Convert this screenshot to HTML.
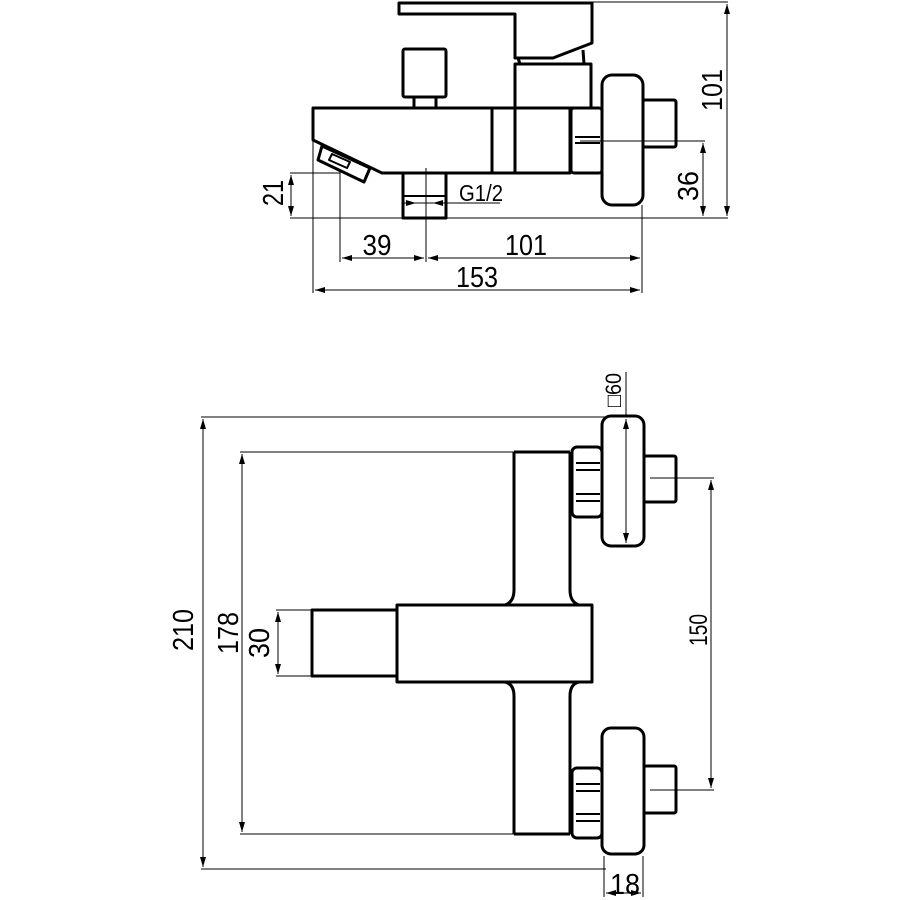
<!DOCTYPE html>
<html><head><meta charset="utf-8"><style>html,body{margin:0;padding:0;background:#fff}svg{display:block}</style></head>
<body>
<svg width="900" height="900" viewBox="0 0 900 900" xmlns="http://www.w3.org/2000/svg">
<defs>
<marker id="a" viewBox="0 0 10 6" refX="10" refY="3" markerWidth="10" markerHeight="6" orient="auto-start-reverse" markerUnits="userSpaceOnUse"><path d="M0,0 L10,3 L0,6 Z" fill="#000"/></marker>
</defs>
<g fill="none" stroke="#000" stroke-width="3" stroke-linejoin="round">
<path d="M399,3 H592 V43 L553,58 H515 V14 H399 Z"/>
<path d="M518,58 L520,64 H584 L583,50"/>
<rect x="515" y="64" width="76" height="44"/>
<rect x="403" y="49" width="43" height="48" rx="2"/>
<path d="M414,97 V108 M436,97 V108"/>
<path d="M313,108 H570 V173 H382 L313,140 Z"/>
<path d="M492,108 V173 M515,108 V173"/>
<path d="M322,146 L370,168 L364,182 L318,160 Z"/>
<path d="M332,154 L350,162 L347,168 L329,160 Z" stroke-width="2"/>
<path d="M403,173 V218 H446 V173"/>
<path d="M403,196 H446" stroke-width="2"/>
<rect x="571" y="108" width="31" height="65" rx="3"/>
<path d="M575,137 H600 M575,143 H600" stroke-width="2"/>
<rect x="602" y="75" width="41" height="130" rx="10"/>
<rect x="643" y="100" width="33" height="47" rx="2"/>
<path d="M514,452 V590 Q514,602 505,605 M570,452 V590 Q570,602 579,605"/>
<path d="M514,834 V696 Q514,684 505,682 M570,834 V696 Q570,684 579,682"/>
<path d="M514,452 H570 M514,834 H570"/>
<rect x="397" y="605" width="195" height="77"/>
<rect x="312" y="610" width="85" height="66"/>
<rect x="572" y="447" width="30" height="70" rx="5"/>
<path d="M576,463 H600 M576,470 H600 M576,494 H600 M576,501 H600" stroke-width="2"/>
<rect x="602" y="416" width="42" height="130" rx="9"/>
<rect x="644" y="456" width="32" height="46" rx="2"/>
<rect x="572" y="768" width="30" height="70" rx="5"/>
<path d="M576,784 H600 M576,791 H600 M576,814 H600 M576,821 H600" stroke-width="2"/>
<rect x="602" y="728" width="42" height="126" rx="9"/>
<rect x="644" y="766" width="32" height="47" rx="2"/>
</g>
<g fill="none" stroke="#000" stroke-width="1">
<path d="M290,218 H728"/>
<path d="M592,2 H728"/>
<path d="M727,4 V216" marker-start="url(#a)" marker-end="url(#a)"/>
<path d="M580,141 H705"/>
<path d="M703,143 V216" marker-start="url(#a)" marker-end="url(#a)"/>
<path d="M290,173 H340"/>
<path d="M291,175 V216" marker-start="url(#a)" marker-end="url(#a)"/>
<path d="M340,170 V262 M426,168 V262 M642,205 V293 M313,140 V293"/>
<path d="M342,258 H424" marker-start="url(#a)" marker-end="url(#a)"/>
<path d="M428,258 H640" marker-start="url(#a)" marker-end="url(#a)"/>
<path d="M315,290 H640" marker-start="url(#a)" marker-end="url(#a)"/>
<path d="M403,203 H500"/>
<path d="M406,203 H416" marker-end="url(#a)"/>
<path d="M443,203 H433" marker-end="url(#a)"/>
<path d="M201,417 H622 M201,869 H606"/>
<path d="M203,419 V867" marker-start="url(#a)" marker-end="url(#a)"/>
<path d="M240,452 H514 M240,834 H514"/>
<path d="M242,454 V832" marker-start="url(#a)" marker-end="url(#a)"/>
<path d="M276,610 H312 M276,676 H312"/>
<path d="M278,612 V674" marker-start="url(#a)" marker-end="url(#a)"/>
<path d="M626,372 V416"/>
<path d="M626,419 V543" marker-start="url(#a)" marker-end="url(#a)"/>
<path d="M650,478 H714 M650,790 H714"/>
<path d="M711,480 V788" marker-start="url(#a)" marker-end="url(#a)"/>
<path d="M604,856 V897 M643,856 V897"/>
<path d="M606,893 H641" marker-start="url(#a)" marker-end="url(#a)"/>
</g>
<g font-family="'Liberation Sans', sans-serif" font-size="29" fill="#000">
<text transform="translate(722,90) rotate(-90)" text-anchor="middle" textLength="42" lengthAdjust="spacingAndGlyphs">101</text>
<text transform="translate(698,186) rotate(-90)" text-anchor="middle" textLength="30" lengthAdjust="spacingAndGlyphs">36</text>
<text transform="translate(283,193) rotate(-90)" text-anchor="middle" textLength="26" lengthAdjust="spacingAndGlyphs">21</text>
<text x="377" y="255" text-anchor="middle" textLength="29" lengthAdjust="spacingAndGlyphs">39</text>
<text x="526" y="255" text-anchor="middle" textLength="42" lengthAdjust="spacingAndGlyphs">101</text>
<text x="477" y="287" text-anchor="middle" textLength="42" lengthAdjust="spacingAndGlyphs">153</text>
<text x="459" y="201" font-size="23" textLength="44" lengthAdjust="spacingAndGlyphs">G1/2</text>
<text transform="translate(193,630) rotate(-90)" text-anchor="middle" textLength="42" lengthAdjust="spacingAndGlyphs">210</text>
<text transform="translate(238,633) rotate(-90)" text-anchor="middle" textLength="42" lengthAdjust="spacingAndGlyphs">178</text>
<text transform="translate(269,643) rotate(-90)" text-anchor="middle" textLength="30" lengthAdjust="spacingAndGlyphs">30</text>
<text transform="translate(707,630) rotate(-90)" text-anchor="middle" textLength="32" lengthAdjust="spacingAndGlyphs" font-size="25">150</text>
<text transform="translate(621,390) rotate(-90)" text-anchor="middle" textLength="34" lengthAdjust="spacingAndGlyphs" font-size="22">□60</text>
<text x="625" y="894" text-anchor="middle" textLength="30" lengthAdjust="spacingAndGlyphs">18</text>
</g>
</svg>
</body></html>
